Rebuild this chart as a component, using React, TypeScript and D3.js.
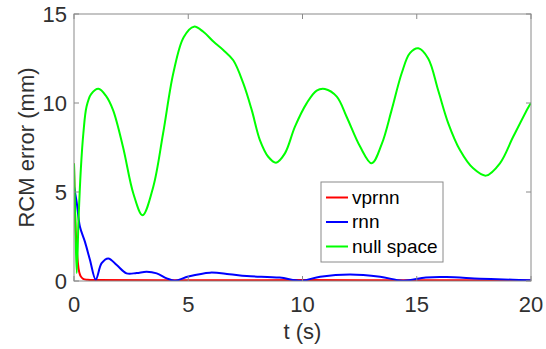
import React from "react";
import * as d3 from "d3";

// time (s), RCM error (mm)
const vprnn: [number, number][] = [
  [0, 6.6], [0.05, 3.6], [0.1, 2.2], [0.15, 1.3], [0.2, 0.7], [0.25, 0.4],
  [0.3, 0.25], [0.4, 0.12], [0.6, 0.07], [1, 0.05], [5, 0.04], [10, 0.05],
  [15, 0.04], [20, 0.03]
];

const rnn: [number, number][] = [
  [0, 5.3], [0.12, 4.4], [0.26, 3.05], [0.48, 2.2], [0.7, 1.18], [0.95, 0.08],
  [1.21, 1.0], [1.5, 1.27], [1.87, 0.9], [2.3, 0.43], [2.74, 0.45], [3.18, 0.52],
  [3.62, 0.43], [4.06, 0.15], [4.42, 0.02], [5.0, 0.25], [5.95, 0.47], [6.8, 0.38],
  [7.56, 0.28], [9.0, 0.19], [9.96, 0.02], [10.77, 0.24], [12.08, 0.37], [13.4, 0.24],
  [14.4, 0.02], [15.4, 0.2], [16.3, 0.22], [17.77, 0.13], [19.2, 0.07], [20, 0.04]
];

const nullSpace: [number, number][] = [
  [0, 6.6], [0.06, 3.2], [0.12, 0.45], [0.2, 3.5], [0.3, 6.3], [0.41, 8.3],
  [0.55, 9.8], [0.75, 10.5], [1.07, 10.8], [1.4, 10.4], [1.71, 9.6], [2.15, 7.5],
  [2.6, 4.9], [3.0, 3.7], [3.47, 5.3], [3.9, 8.3], [4.35, 11.7], [4.8, 13.7],
  [5.25, 14.29], [5.66, 14.0], [6.1, 13.45], [6.53, 12.98], [6.97, 12.4], [7.41, 11.1],
  [7.78, 9.6], [8.14, 7.9], [8.5, 6.98], [8.84, 6.65], [9.23, 7.17], [9.67, 8.67],
  [10.18, 9.98], [10.62, 10.7], [10.98, 10.79], [11.5, 10.36], [11.93, 9.23], [12.52, 7.55],
  [13.03, 6.61], [13.47, 7.7], [13.9, 9.6], [14.34, 11.67], [14.7, 12.8], [15.07, 13.07],
  [15.5, 12.5], [15.94, 10.7], [16.38, 8.86], [16.89, 7.36], [17.47, 6.33], [18.03, 5.92],
  [18.64, 6.61], [19.22, 8.1], [19.88, 9.75], [20, 10.0]
];

const seriesNames = ["vprnn", "rnn", "null space"];
const seriesColors = ["#ff0000", "#0000ff", "#00ff00"];
const xTicks = [0, 5, 10, 15, 20];
const yTicks = [0, 5, 10, 15];

const W = 546;
const H = 349;
const margin = { left: 74, top: 14, right: 15, bottom: 68 };
const font = "'Liberation Sans', Arial, sans-serif";
const axisColor = "#8a8a8a";
const textColor = "#303030";

export default function App() {
  const x = d3.scaleLinear().domain([0, 20]).range([margin.left, W - margin.right]);
  const y = d3.scaleLinear().domain([0, 15]).range([H - margin.bottom, margin.top]);
  const line = d3
    .line<[number, number]>()
    .x(d => x(d[0]))
    .y(d => y(d[1]))
    .curve(d3.curveCatmullRom.alpha(0.5));

  const data = [vprnn, rnn, nullSpace];
  const [x0, x1] = x.range();
  const [y0, y1] = y.range();
  const tickLen = 5;

  // legend placement
  const lg = { x: 321, y: 182, w: 122, h: 80 };
  const rowY = [197.5, 222, 246.5];

  return (
    <svg
      width={W}
      height={H}
      style={{ position: "absolute", left: 0, top: 0, background: "#fff" }}
      fontFamily={font}
    >
      <defs>
        <clipPath id="plot-clip">
          <rect x={x0} y={y1 - 2} width={x1 - x0} height={y0 - y1 + 2} />
        </clipPath>
      </defs>
      <rect x={0} y={0} width={W} height={H} fill="#fff" />

      <g clipPath="url(#plot-clip)">
        {data.map((d, i) => (
          <path
            key={i}
            d={line(d) || ""}
            fill="none"
            stroke={seriesColors[i]}
            strokeWidth={2}
            strokeLinejoin="round"
          />
        ))}
      </g>

      {/* box */}
      <rect x={x0} y={y1} width={x1 - x0} height={y0 - y1} fill="none" stroke={axisColor} strokeWidth={1} />

      {xTicks.map(t => (
        <g key={"x" + t}>
          <line x1={x(t)} x2={x(t)} y1={y0} y2={y0 - tickLen} stroke={axisColor} />
          <line x1={x(t)} x2={x(t)} y1={y1} y2={y1 + tickLen} stroke={axisColor} />
          <text x={x(t)} y={y0 + 31} textAnchor="middle" fontSize={22} fill={textColor}>
            {t}
          </text>
        </g>
      ))}
      {yTicks.map(t => (
        <g key={"y" + t}>
          <line x1={x0} x2={x0 + tickLen} y1={y(t)} y2={y(t)} stroke={axisColor} />
          <line x1={x1} x2={x1 - tickLen} y1={y(t)} y2={y(t)} stroke={axisColor} />
          <text x={x0 - 7} y={y(t)} dy="0.36em" textAnchor="end" fontSize={22} fill={textColor}>
            {t}
          </text>
        </g>
      ))}

      <text x={(x0 + x1) / 2} y={339} textAnchor="middle" fontSize={22} fill={textColor}>
        t (s)
      </text>
      <text
        transform={`translate(34, ${(y0 + y1) / 2}) rotate(-90)`}
        textAnchor="middle"
        fontSize={22}
        fill={textColor}
      >
        RCM error (mm)
      </text>

      {/* legend */}
      <rect x={lg.x} y={lg.y} width={lg.w} height={lg.h} fill="#fff" stroke={axisColor} strokeWidth={1} />
      {seriesNames.map((name, i) => (
        <g key={name}>
          <line x1={lg.x + 5} x2={lg.x + 27} y1={rowY[i]} y2={rowY[i]} stroke={seriesColors[i]} strokeWidth={2} />
          <text x={lg.x + 31} y={rowY[i]} dy="0.33em" fontSize={19} fill="#000">
            {name}
          </text>
        </g>
      ))}
    </svg>
  );
}
